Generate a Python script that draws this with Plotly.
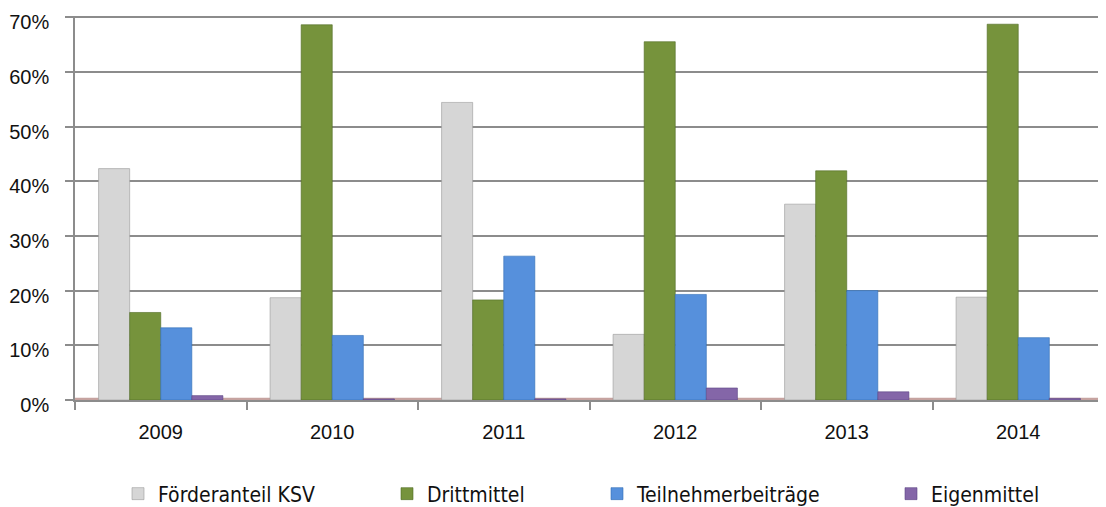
import plotly.graph_objects as go

years = ["2009", "2010", "2011", "2012", "2013", "2014"]
foerderanteil = [42.3, 18.7, 54.4, 12.0, 35.8, 18.8]
drittmittel = [16.0, 68.6, 18.3, 65.5, 41.9, 68.7]
teilnehmer = [13.2, 11.8, 26.3, 19.3, 20.0, 11.4]
eigenmittel = [0.8, 0.2, 0.2, 2.2, 1.5, 0.3]
y_ticks = [0, 10, 20, 30, 40, 50, 60, 70]
y_tick_labels = ["0%", "10%", "20%", "30%", "40%", "50%", "60%", "70%"]

series_names = ["Förderanteil KSV", "Drittmittel", "Teilnehmerbeiträge", "Eigenmittel"]
series_values = [foerderanteil, drittmittel, teilnehmer, eigenmittel]
colors = ["#d6d6d6", "#76933c", "#5690dc", "#8466a8"]
line_colors = ["#9a9a9a", "#4f6a22", "#2f6bb5", "#5c4485"]

# page body has an 8px margin; figure coordinates are offset by it
OFF = 8
W, H = 1106 - OFF, 507 - OFF
ML, MR, MT, MB = 75 - OFF, 2, 16 - OFF, H - (400 - OFF)
legend_text_px = [158, 427, 637, 931]

fig = go.Figure()
for i, (name, vals) in enumerate(zip(series_names, series_values)):
    fig.add_trace(go.Bar(
        x=years, y=vals, name=name,
        marker=dict(color=colors[i], line=dict(color=line_colors[i], width=0.6)),
        legend="legend" if i == 0 else f"legend{i+1}",
        hovertemplate="%{x}: %{y:.1f}%<extra>" + name + "</extra>",
    ))

legend_font = dict(family="'Liberation Sans Narrow', 'DejaVu Sans Condensed', 'Arial Narrow', sans-serif",
                   size=21, color="#111111")
layout_legends = {}
for i, tx in enumerate(legend_text_px):
    key = "legend" if i == 0 else f"legend{i+1}"
    layout_legends[key] = dict(
        x=(tx - OFF - 40) / W, y=1 - (494 - OFF) / H, xref="container", yref="container",
        xanchor="left", yanchor="middle", orientation="h",
        font=legend_font, bgcolor="rgba(0,0,0,0)", itemwidth=30,
    )

fig.update_layout(
    width=W, height=H,
    margin=dict(l=ML, r=MR, t=MT, b=MB, autoexpand=False),
    paper_bgcolor="white", plot_bgcolor="white",
    barmode="group", bargap=0.275, bargroupgap=0,
    font=dict(family="'Liberation Sans', Arial, sans-serif", size=20, color="#111111"),
    showlegend=True,
    **layout_legends,
)

fig.update_yaxes(
    range=[0, 70.2], tickmode="array", tickvals=y_ticks, ticktext=y_tick_labels,
    showgrid=True, gridcolor="#8c8c8c", gridwidth=1.5,
    showline=True, linecolor="#8c8c8c", linewidth=1.5,
    ticks="outside", ticklen=8, tickcolor="#8c8c8c", tickwidth=1.5,
    ticklabelstandoff=12, ticklabelshift=5, ticklabeloverflow="allow", automargin=False,
    zeroline=False, fixedrange=True,
)
fig.update_xaxes(
    type="category", showline=True, linecolor="#8c8c8c", linewidth=1.5,
    ticks="outside", tickson="boundaries", ticklen=8, tickcolor="#8c8c8c", tickwidth=1.5,
    ticklabelstandoff=13, automargin=False,
    showgrid=False, fixedrange=True,
)

# 3D-like floor line at zero
fig.add_shape(type="line", xref="paper", yref="y", x0=0, x1=1, y0=0.15, y1=0.15,
              line=dict(color="#c6a3a0", width=3), layer="below")

fig.write_html("out.html")
